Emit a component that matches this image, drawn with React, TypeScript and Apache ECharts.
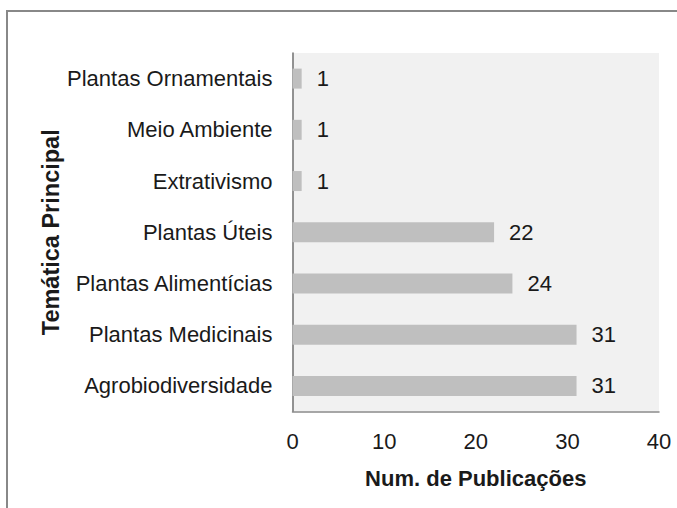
import React, { useEffect, useRef } from "react";
import * as echarts from "echarts";

const categories = [
  "Agrobiodiversidade",
  "Plantas Medicinais",
  "Plantas Alimentícias",
  "Plantas Úteis",
  "Extrativismo",
  "Meio Ambiente",
  "Plantas Ornamentais",
];
const values = [31, 31, 24, 22, 1, 1, 1];
const xMin = 0;
const xMax = 40;
const xInterval = 10;
const xTitle = "Num. de Publicações";
const yTitle = "Temática Principal";

const FONT = "'Liberation Sans', Arial, Helvetica, sans-serif";

export default function App() {
  const ref = useRef<HTMLDivElement>(null);
  useEffect(() => {
    if (!ref.current) return;
    const chart = echarts.init(ref.current, undefined, { renderer: "svg" });
    chart.setOption({
      animation: false,
      backgroundColor: "#ffffff",
      textStyle: { fontFamily: FONT },
      graphic: [
        {
          type: "rect",
          shape: { x: 7, y: 11, width: 700, height: 520 },
          style: { fill: "none", stroke: "#888888", lineWidth: 2 },
          z: 100,
        },
      ],
      grid: {
        left: 292.5,
        right: 18,
        top: 53,
        bottom: 96.5,
        show: true,
        backgroundColor: "#f1f1f1",
        borderWidth: 0,
      },
      xAxis: {
        type: "value",
        min: xMin,
        max: xMax,
        interval: xInterval,
        splitLine: { show: false },
        axisLine: { show: true, lineStyle: { color: "#8a8a8a", width: 1.5 } },
        axisTick: { show: false },
        axisLabel: { color: "#1a1a1a", fontSize: 22, margin: 19, fontFamily: FONT },
        name: xTitle,
        nameLocation: "middle",
        nameGap: 56,
        nameMoveOverlap: false,
        nameTextStyle: { color: "#1a1a1a", fontSize: 22, fontWeight: "bold", fontFamily: FONT },
      },
      yAxis: {
        type: "category",
        data: categories,
        axisLine: { show: true, lineStyle: { color: "#707070", width: 1.5 } },
        axisTick: { show: false },
        axisLabel: { color: "#1a1a1a", fontSize: 22, margin: 20, fontFamily: FONT },
        name: yTitle,
        nameLocation: "middle",
        nameGap: 230,
        nameRotate: 90,
        nameMoveOverlap: false,
        nameTextStyle: { color: "#1a1a1a", fontSize: 23.5, fontWeight: "bold", fontFamily: FONT },
      },
      series: [
        {
          type: "bar",
          data: values,
          barWidth: 20,
          itemStyle: { color: "#bfbfbf" },
          label: {
            show: true,
            position: "right",
            distance: 15,
            color: "#1a1a1a",
            fontSize: 22,
            fontFamily: FONT,
          },
        },
      ],
    });
    return () => chart.dispose();
  }, []);
  return (
    <div
      ref={ref}
      style={{ position: "fixed", left: 0, top: 0, width: 677, height: 508 }}
    />
  );
}
